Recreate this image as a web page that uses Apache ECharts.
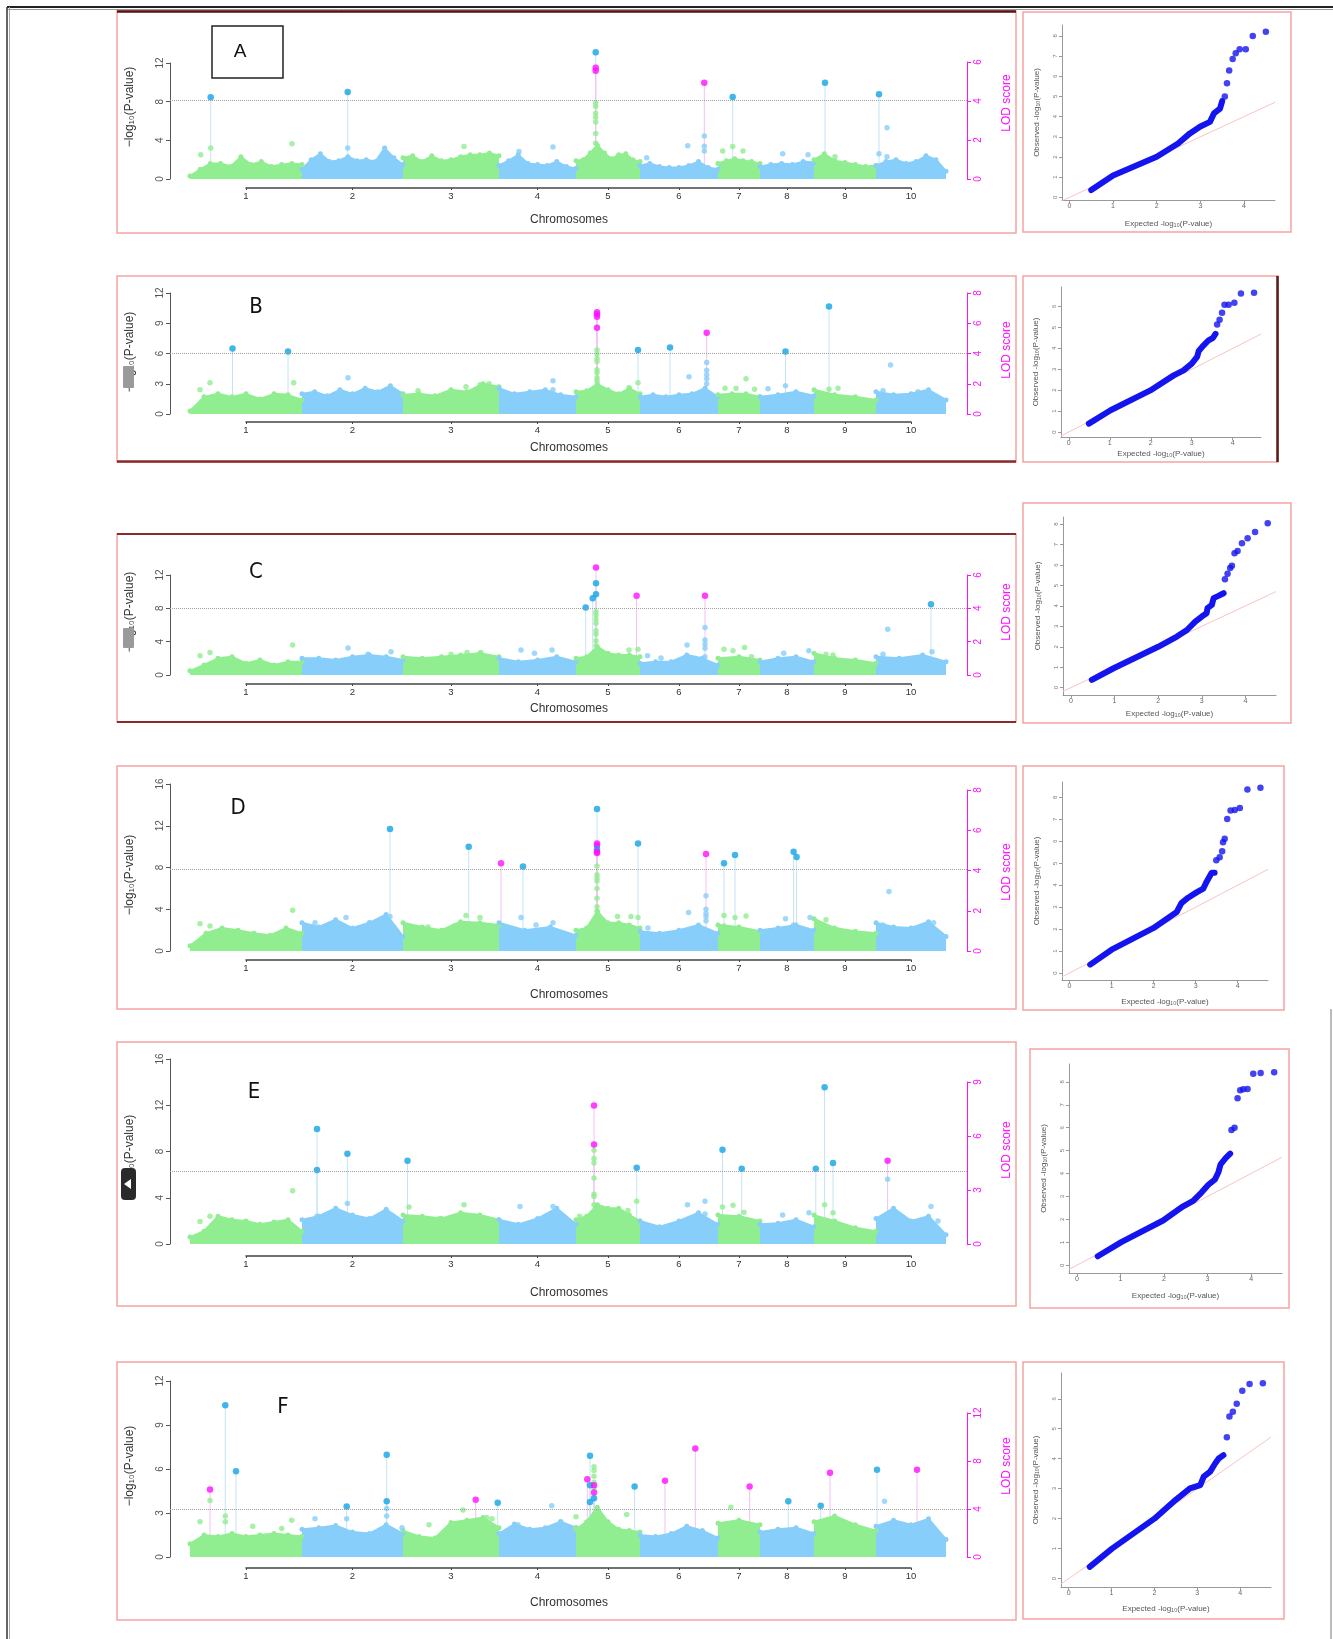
<!DOCTYPE html>
<html>
<head>
<meta charset="utf-8">
<script src="https://cdn.jsdelivr.net/npm/echarts@6.0.0/dist/echarts.min.js"></script>
<style>
  html, body { margin: 0; padding: 0; background: #fff; }
  #chart { width: 1333px; height: 1639px; }
</style>
</head>
<body>
<div id="chart"></div>
<script>
// ---------------------------------------------------------------------------
// Data (6 Manhattan plots + 6 QQ plots)
// ---------------------------------------------------------------------------
const chrNames = ["1", "2", "3", "4", "5", "6", "7", "8", "9", "10"];
// chromosome widths on the shared genome axis (marker index units)
const chrLen = [112, 101, 96, 77, 64, 78, 42, 54, 62, 70];
const thresholds = [8.1, 6.0, 8.0, 7.8, 6.3, 3.25];

// top edge of the dense point cloud, per chromosome (evenly spread inside it)
const envA = [
  [0.3, 1.0, 1.6, 1.6, 1.3, 2.3, 1.5, 1.8, 1.3, 1.5, 1.6, 1.5],
  [1.0, 2.0, 2.6, 1.8, 1.9, 2.3, 1.9, 2.0, 1.8, 3.2, 2.2, 1.5],
  [2.2, 2.4, 1.8, 2.4, 1.9, 2.0, 2.3, 2.5, 2.5, 2.7, 2.4],
  [1.4, 1.9, 2.5, 1.6, 1.5, 1.4, 1.8, 1.3, 1.1],
  [1.9, 2.0, 2.7, 3.5, 2.7, 2.1, 2.5, 2.6, 2.0, 1.8],
  [1.4, 1.6, 1.3, 1.2, 1.2, 1.4, 1.8, 1.2, 1.0],
  [1.6, 1.9, 2.1, 1.9, 1.8, 1.6],
  [1.3, 1.5, 1.6, 1.5, 1.8, 1.7],
  [2.0, 2.6, 1.9, 1.7, 1.5, 1.3, 1.4],
  [1.4, 1.8, 2.0, 1.6, 1.8, 2.4, 2.0, 0.8]
];
const envB = [
  [0.3, 1.7, 2.0, 1.7, 2.0, 1.5, 2.0, 1.9, 1.4],
  [2.0, 2.2, 1.8, 2.4, 2.0, 2.55, 2.2, 2.8, 2.0],
  [1.9, 2.0, 1.8, 2.4, 2.2, 3.0, 2.7],
  [2.55, 2.0, 2.2, 2.4, 1.9, 1.7],
  [2.2, 2.3, 3.0, 2.4, 2.0, 2.55, 2.0],
  [1.7, 1.9, 1.7, 1.9, 2.0, 2.55, 1.7],
  [1.9, 2.0, 2.0, 1.7],
  [1.7, 1.9, 2.2, 1.8],
  [2.4, 1.9, 1.7, 1.4],
  [2.2, 1.9, 2.0, 2.4, 1.4]
];
const envC = [
  [0.5, 1.2, 2.0, 2.2, 1.4, 1.8, 1.2, 1.6, 1.6],
  [2.0, 2.0, 1.8, 2.2, 2.4, 2.2, 1.8],
  [2.2, 2.0, 2.2, 2.4, 2.6, 2.2],
  [2.0, 1.6, 1.8, 2.2, 1.6],
  [2.0, 2.2, 3.4, 2.6, 2.4, 2.4, 2.2],
  [1.4, 1.6, 1.6, 2.4, 2.0, 1.2],
  [2.0, 2.2, 1.8],
  [1.6, 2.0, 2.2, 1.6],
  [2.6, 2.0, 1.8, 1.4],
  [2.2, 2.0, 2.4, 1.6]
];
const envD = [
  [0.5, 1.7, 2.2, 2.0, 1.7, 1.5, 2.2, 1.7],
  [2.7, 2.3, 3.0, 2.2, 2.7, 3.5, 1.4],
  [2.7, 2.3, 2.0, 2.8, 2.7, 2.5],
  [2.7, 2.0, 2.3, 1.5],
  [2.0, 2.2, 3.8, 2.7, 2.7, 2.5, 2.2],
  [1.9, 1.7, 2.0, 2.5, 1.7],
  [2.5, 2.3, 1.9],
  [2.0, 2.2, 2.5, 2.0],
  [3.1, 2.2, 1.9, 1.7],
  [2.7, 2.3, 2.2, 2.8, 1.4]
];
const envE = [
  [0.6, 1.1, 2.4, 2.1, 2.0, 1.7, 1.9, 2.1, 1.1],
  [2.1, 2.4, 3.1, 2.5, 2.2, 3.0, 2.0],
  [2.5, 2.4, 2.2, 2.7, 2.5, 2.1],
  [2.1, 1.7, 2.2, 3.1, 1.7],
  [2.1, 2.4, 3.4, 3.1, 3.1, 2.5, 2.0],
  [2.0, 1.5, 2.0, 2.7, 1.7],
  [2.5, 2.4, 2.0],
  [1.7, 1.8, 2.1, 1.5],
  [2.5, 2.0, 1.4, 1.1],
  [2.2, 3.1, 2.0, 2.4, 0.8]
];
const envF = [
  [0.9, 1.5, 1.4, 1.6, 1.4, 1.5, 1.6, 1.5, 1.4],
  [1.9, 2.0, 2.15, 1.7, 1.6, 2.2, 1.6],
  [1.8, 1.4, 1.3, 2.35, 2.5, 2.7, 2.0],
  [1.6, 2.25, 1.9, 2.0, 2.4, 2.0],
  [1.9, 2.4, 3.4, 2.4, 1.9, 1.8, 1.7],
  [1.5, 1.4, 1.6, 2.1, 1.8, 1.3],
  [2.3, 2.5, 2.2],
  [1.7, 1.9, 2.0, 1.6],
  [2.4, 2.8, 2.2, 1.8],
  [2.1, 2.5, 2.2, 2.6, 1.2]
];

// significant markers: [position, -log10(p), 0 = GWAS (blue) / 1 = LOD (magenta)]
const sigA = [[20.7, 8.45, 0], [157.7, 9.0, 0], [405.7, 13.1, 0], [405.7, 11.5, 1], [405.7, 11.2, 1],
  [514.3, 9.96, 1], [542.7, 8.48, 0], [635, 9.96, 0], [689, 8.76, 0]];
const sigB = [[42.5, 6.5, 0], [98, 6.2, 0], [407, 10.1, 1], [407, 9.9, 1], [407, 9.65, 1], [407, 8.56, 1],
  [448, 6.35, 0], [480, 6.6, 0], [516.7, 8.07, 1], [595.5, 6.2, 0], [639, 10.65, 0]];
const sigC = [[395.7, 8.1, 0], [402.7, 9.2, 0], [406, 9.7, 0], [406, 11.0, 0], [406, 12.9, 1],
  [446.6, 9.5, 1], [515, 9.5, 1], [741, 8.5, 0]];
const sigD = [[200, 11.7, 0], [278.7, 10.0, 0], [311, 8.4, 1], [333, 8.1, 0], [407, 13.6, 0], [407, 10.3, 1],
  [407, 10.1, 1], [407, 9.75, 0], [407, 9.5, 1], [407, 9.4, 1], [448, 10.3, 0], [516, 9.3, 1],
  [534, 8.4, 0], [545, 9.2, 0], [603.6, 9.5, 0], [606.6, 9.0, 0]];
const sigE = [[127, 9.95, 0], [127, 6.4, 0], [157.4, 7.8, 0], [217.5, 7.2, 0], [404, 11.97, 1], [404, 8.6, 1],
  [446.7, 6.6, 0], [532.5, 8.15, 0], [551.7, 6.5, 0], [625.8, 6.5, 0], [634.6, 13.55, 0], [643, 7.0, 0],
  [697.6, 7.2, 1]];
const sigF = [[20, 4.6, 1], [35.3, 10.35, 0], [46, 5.85, 0], [156.7, 3.45, 0], [196.7, 6.97, 0], [196.7, 3.8, 0],
  [285.7, 3.9, 1], [307.7, 3.7, 0], [397.3, 5.3, 1], [400, 6.9, 0], [400, 4.9, 0], [400, 3.75, 0],
  [404, 4.9, 1], [404, 4.4, 1], [404, 4.0, 0], [444.6, 4.8, 0], [475, 5.2, 1], [505.3, 7.4, 1],
  [559.6, 4.8, 1], [598.3, 3.8, 0], [630.7, 3.5, 0], [640, 5.75, 1], [687, 5.95, 0], [727, 5.95, 1]];

// loose markers standing above the cloud: [position, -log10(p)]
const ptsA = [[10.7, 2.5], [20.7, 3.2], [102, 3.65], [157.7, 3.2], [274, 3.35], [329, 2.85], [363, 3.3],
  [405.7, 7.9], [405.7, 7.5], [405.7, 6.8], [405.7, 6.4], [405.7, 5.9], [405.7, 4.7], [405.7, 3.7],
  [456.7, 2.2], [497.7, 3.45], [514.3, 4.45], [514.3, 3.4], [514.3, 2.9], [532.7, 2.9], [542.7, 3.35],
  [553, 2.9], [592.7, 2.6], [618, 2.5], [645, 2.3], [697, 5.3], [689, 2.6], [697, 2.3]];
const ptsB = [[10, 2.4], [20, 3.1], [103.7, 3.1], [158, 3.6], [228, 2.3], [276, 2.7], [290, 2.9], [299, 3.0],
  [363, 3.3], [363, 2.4], [407, 6.35], [407, 5.95], [407, 5.5], [407, 5.2], [407, 4.4], [407, 4.1],
  [407, 3.6], [407, 3.3], [448, 3.1], [439, 2.6], [499, 3.7], [516.7, 5.1], [516.7, 4.35], [516.7, 3.9],
  [516.7, 3.5], [516.7, 3.0], [535, 2.55], [546, 2.55], [556, 3.5], [564.5, 2.45], [578, 2.5],
  [595.5, 2.8], [639, 2.45], [648, 2.55], [700.5, 4.85], [693, 2.3], [728, 2.2]];
const ptsC = [[10, 2.3], [20, 2.7], [102.6, 3.6], [158, 3.25], [178, 2.5], [201, 2.8], [261, 2.5], [277, 2.7],
  [291, 2.7], [331, 3.0], [344.5, 2.6], [362, 3.0], [406, 7.6], [406, 7.2], [406, 6.7], [406, 6.2],
  [406, 5.3], [406, 4.9], [406, 4.1], [406, 3.5], [439, 3.0], [448, 3.1], [457.5, 2.3], [471, 2.05],
  [497, 3.6], [515, 5.7], [515, 4.2], [515, 3.7], [515, 3.2], [515, 2.2], [534, 3.1], [543, 2.9],
  [554.6, 3.3], [561.6, 2.2], [593.7, 2.6], [618.8, 2.9], [636, 2.5], [643, 2.4], [697.7, 5.5],
  [693, 2.5], [735, 2.0], [742, 2.8]];
const ptsD = [[10, 2.6], [20, 2.4], [102.6, 3.9], [125, 2.7], [156, 3.2], [179.6, 2.7], [189, 2.5], [200, 3.3],
  [238, 2.3], [264, 2.4], [276, 3.4], [290, 3.2], [331, 3.2], [346, 2.5], [363, 2.7], [407, 8.15],
  [407, 7.3], [407, 7.0], [407, 6.7], [407, 6.0], [407, 5.05], [407, 4.25], [407, 3.8], [427.5, 3.3],
  [441, 3.3], [448, 3.2], [458, 2.2], [498.6, 3.7], [516, 5.3], [516, 4.0], [516, 3.6], [516, 3.3],
  [516, 2.9], [534, 3.4], [534, 2.4], [545, 3.2], [556, 3.35], [595.5, 3.1], [603.6, 2.5], [620, 3.2],
  [636, 3.0], [648, 2.0], [699, 5.7], [693, 2.5], [743.6, 2.7]];
const ptsE = [[10, 1.95], [20, 2.4], [102.6, 4.6], [127, 2.4], [147.5, 2.2], [157.4, 3.5], [171, 2.1],
  [219, 3.2], [249.6, 2.2], [261, 2.1], [274, 3.4], [284.6, 2.4], [330, 3.25], [363, 3.25], [389.6, 2.4],
  [404, 8.1], [404, 7.4], [404, 7.0], [404, 5.7], [404, 4.3], [404, 4.1], [404, 3.4], [438, 2.9],
  [438, 2.3], [446.7, 3.7], [497.5, 3.4], [515, 3.7], [515, 2.6], [532.5, 3.2], [543, 3.35], [554, 2.75],
  [592.6, 2.5], [619, 2.7], [634.6, 3.4], [643, 2.7], [697.6, 5.6], [697.6, 2.5], [741, 3.25], [748, 2.0]];
const ptsF = [[10, 2.4], [20, 3.85], [35.3, 2.8], [35.3, 2.4], [62.7, 2.1], [91.7, 1.95], [101.7, 2.5],
  [125, 2.6], [156.7, 2.6], [196.7, 3.3], [196.7, 2.8], [212, 2.0], [239, 2.2], [273, 3.2], [296.7, 2.7],
  [302, 2.6], [328, 2.2], [361.7, 3.5], [370.7, 2.4], [386, 2.75], [386, 2.0], [404, 6.15], [404, 5.9],
  [404, 5.5], [404, 5.1], [404, 4.7], [436.7, 2.9], [540.8, 3.4], [694.5, 3.8]];

// QQ plots: dense part of the curve, then the sparse upper tail [expected, observed]
const qqLineA = [[0.50, 0.36], [1.0, 1.08], [2.0, 2.01], [2.49, 2.67], [2.76, 3.17], [2.99, 3.5], [3.22, 3.74],
  [3.31, 4.16], [3.45, 4.4], [3.5, 4.77]];
const qqTailA = [[3.56, 5.0], [3.61, 5.66], [3.66, 6.28], [3.74, 6.86], [3.81, 7.14], [3.9, 7.34], [4.04, 7.34],
  [4.2, 7.99], [4.5, 8.2]];
const qqLineB = [[0.49, 0.40], [1.02, 1.04], [1.99, 1.99], [2.56, 2.71], [2.8, 2.95], [3.0, 3.27], [3.13, 3.59],
  [3.17, 3.88], [3.29, 4.15], [3.41, 4.39], [3.52, 4.51], [3.58, 4.7]];
const qqTailB = [[3.62, 5.14], [3.68, 5.37], [3.74, 5.71], [3.8, 6.09], [3.9, 6.09], [4.04, 6.19], [4.2, 6.63],
  [4.52, 6.67]];
const qqLineC = [[0.48, 0.38], [0.98, 0.95], [2.0, 2.0], [2.43, 2.5], [2.66, 2.82], [2.85, 3.23], [3.0, 3.48],
  [3.11, 3.64], [3.13, 3.89], [3.23, 4.05], [3.27, 4.38], [3.38, 4.49], [3.5, 4.62]];
const qqTailC = [[3.53, 5.3], [3.59, 5.57], [3.65, 5.85], [3.69, 5.96], [3.75, 6.58], [3.82, 6.69], [3.92, 7.07],
  [4.05, 7.31], [4.22, 7.62], [4.51, 8.05]];
const qqLineD = [[0.49, 0.38], [1.0, 1.06], [1.99, 2.04], [2.55, 2.78], [2.66, 3.18], [2.82, 3.43], [3.02, 3.67],
  [3.18, 3.84], [3.26, 4.16], [3.38, 4.57], [3.45, 4.57]];
const qqTailD = [[3.49, 5.14], [3.57, 5.27], [3.63, 5.55], [3.65, 5.96], [3.69, 6.12], [3.75, 7.02], [3.83, 7.4],
  [3.93, 7.43], [4.05, 7.51], [4.23, 8.36], [4.54, 8.44]];
const qqLineE = [[0.48, 0.39], [1.02, 1.01], [1.98, 1.95], [2.44, 2.57], [2.67, 2.81], [2.86, 3.17], [3.02, 3.51],
  [3.17, 3.74], [3.25, 4.06], [3.3, 4.4], [3.42, 4.68], [3.52, 4.87]];
const qqTailE = [[3.55, 5.9], [3.62, 6.0], [3.69, 7.29], [3.75, 7.64], [3.82, 7.68], [3.92, 7.69], [4.05, 8.35],
  [4.22, 8.39], [4.53, 8.42]];
const qqLineF = [[0.49, 0.39], [1.01, 1.0], [2.0, 2.0], [2.49, 2.62], [2.83, 3.01], [3.07, 3.12], [3.15, 3.4],
  [3.3, 3.57], [3.42, 3.85], [3.5, 4.01], [3.61, 4.12]];
const qqTailF = [[3.69, 4.72], [3.75, 5.41], [3.83, 5.57], [3.92, 5.83], [4.05, 6.27], [4.22, 6.49], [4.53, 6.52]];

// ---------------------------------------------------------------------------
// Layout (pixel geometry of each panel)
// ---------------------------------------------------------------------------
const GREEN = "#90ee90", LBLUE = "#87cefa", DBLUE = "#13a4e6", MAG = "#ff10ff", QBLUE = "#1414f0";
const FONT = "'Liberation Sans', Arial, 'DejaVu Sans', sans-serif";
const NARROW = "'Liberation Sans Narrow', 'DejaVu Sans Condensed', 'Liberation Sans', sans-serif";
const PINK_BOX = "#f6a3a3";

const manLayout = {
  A: { y0: 179, yTop: 63, ymax: 12, yStep: 4, lodTop: 62, lodMax: 6, lodStep: 2, chrY: 188,
       box: [117, 11, 1016, 233], titleY: 220, ylabY: 107, lodLabY: 103, letter: [240, 52] },
  B: { y0: 414, yTop: 293, ymax: 12, yStep: 3, lodTop: 293, lodMax: 8, lodStep: 2, chrY: 422,
       box: [117, 276, 1016, 462], titleY: 448, ylabY: 352, lodLabY: 350, letter: [256, 307] },
  C: { y0: 675, yTop: 575, ymax: 12, yStep: 4, lodTop: 575, lodMax: 6, lodStep: 2, chrY: 684,
       box: [117, 534, 1016, 722], titleY: 709, ylabY: 612, lodLabY: 612, letter: [256, 572] },
  D: { y0: 951, yTop: 784, ymax: 16, yStep: 4, lodTop: 790, lodMax: 8, lodStep: 2, chrY: 960,
       box: [117, 766, 1016, 1009], titleY: 995, ylabY: 875, lodLabY: 872, letter: [238, 808] },
  E: { y0: 1244, yTop: 1059, ymax: 16, yStep: 4, lodTop: 1082, lodMax: 9, lodStep: 3, chrY: 1256,
       box: [117, 1042, 1016, 1306], titleY: 1293, ylabY: 1155, lodLabY: 1150, letter: [254, 1092] },
  F: { y0: 1557, yTop: 1381, ymax: 12, yStep: 3, lodTop: 1413, lodMax: 12, lodStep: 4, chrY: 1568,
       box: [117, 1362, 1016, 1620], titleY: 1603, ylabY: 1466, lodLabY: 1466, letter: [283, 1407] }
};

const qqLayout = {
  A: { l: 1062, r: 1275, t: 25, b: 200, xmin: -0.17, xmax: 4.71, ymin: -0.13, ymax: 8.54, yTop: 8, gapX: 20, box: [1023, 12, 1291, 232] },
  B: { l: 1061, r: 1261, t: 287, b: 437, xmin: -0.19, xmax: 4.69, ymin: -0.24, ymax: 6.94, yTop: 6, gapX: 13, box: [1023, 276, 1278, 462] },
  C: { l: 1063, r: 1276, t: 517, b: 695, xmin: -0.18, xmax: 4.70, ymin: -0.36, ymax: 8.35, yTop: 8, gapX: 15, box: [1023, 503, 1291, 723] },
  D: { l: 1062, r: 1268, t: 782, b: 980, xmin: -0.18, xmax: 4.72, ymin: -0.32, ymax: 8.70, yTop: 8, gapX: 18, box: [1023, 766, 1284, 1010] },
  E: { l: 1069, r: 1282, t: 1064, b: 1273, xmin: -0.18, xmax: 4.71, ymin: -0.34, ymax: 8.78, yTop: 8, gapX: 19, box: [1030, 1049, 1289, 1308] },
  F: { l: 1061, r: 1271, t: 1373, b: 1587, xmin: -0.18, xmax: 4.72, ymin: -0.28, ymax: 6.86, yTop: 6, gapX: 18, box: [1023, 1362, 1284, 1619] }
};

const manData = {
  A: { env: envA, sig: sigA, pts: ptsA, thr: thresholds[0] },
  B: { env: envB, sig: sigB, pts: ptsB, thr: thresholds[1] },
  C: { env: envC, sig: sigC, pts: ptsC, thr: thresholds[2] },
  D: { env: envD, sig: sigD, pts: ptsD, thr: thresholds[3] },
  E: { env: envE, sig: sigE, pts: ptsE, thr: thresholds[4] },
  F: { env: envF, sig: sigF, pts: ptsF, thr: thresholds[5] }
};
const qqData = {
  A: [qqLineA, qqTailA], B: [qqLineB, qqTailB], C: [qqLineC, qqTailC],
  D: [qqLineD, qqTailD], E: [qqLineE, qqTailE], F: [qqLineF, qqTailF]
};

// ---------------------------------------------------------------------------
const X_MIN = -20, X_MAX = 777, PLOT_L = 170, PLOT_W = 797;
const pxOf = (pos) => PLOT_L + (pos - X_MIN) / (X_MAX - X_MIN) * PLOT_W;
const chrStart = chrLen.map((_, i) => chrLen.slice(0, i).reduce((a, b) => a + b, 0));
const chrMid = chrStart.map((s, i) => s + chrLen[i] / 2);

function chrColor(pos) {
  let k = 0;
  chrStart.forEach((s, i) => { if (pos >= s) k = i; });
  return k % 2 ? LBLUE : GREEN;
}

const grids = [], xAxes = [], yAxes = [], series = [], graphics = [];
const add = (arr, o) => { arr.push(o); return arr.length - 1; };

function gText(text, x, y, color, font, rot) {
  graphics.push({
    type: "text", x, y, rotation: rot || 0, silent: true, z: 10,
    style: { text, fill: color, font, textAlign: "center", textVerticalAlign: "middle", align: "center", verticalAlign: "middle" }
  });
}
function gLine(x1, y1, x2, y2, stroke, w) {
  graphics.push({ type: "line", silent: true, z: 10, shape: { x1, y1, x2, y2 }, style: { stroke, lineWidth: w } });
}
function gBox(b, stroke, w) {
  graphics.push({ type: "rect", silent: true, z: 9, shape: { x: b[0], y: b[1], width: b[2] - b[0], height: b[3] - b[1] },
    style: { fill: "none", stroke, lineWidth: w } });
}

function manhattan(k) {
  const L = manLayout[k], d = manData[k];
  const gi = add(grids, { left: PLOT_L, width: PLOT_W, top: L.yTop, height: L.y0 - L.yTop });
  const xi = add(xAxes, { gridIndex: gi, type: "value", min: X_MIN, max: X_MAX, show: false });
  const yi = add(yAxes, {
    gridIndex: gi, type: "value", min: 0, max: L.ymax, interval: L.yStep,
    axisLine: { show: true, onZero: false, lineStyle: { color: "#555", width: 1 } },
    axisTick: { show: true, length: 4, lineStyle: { color: "#555" } },
    axisLabel: { rotate: 90, fontSize: 10, color: "#555", margin: 5, fontFamily: FONT },
    splitLine: { show: false }
  });

  // stems below the significant markers
  series.push({
    type: "custom", xAxisIndex: xi, yAxisIndex: yi, data: d.sig, silent: true, z: 1,
    renderItem: (params, api) => {
      const top = api.coord([api.value(0), api.value(1)]);
      const bot = api.coord([api.value(0), 0]);
      return { type: "line", shape: { x1: top[0], y1: top[1], x2: bot[0], y2: bot[1] },
        style: { stroke: api.value(2) ? "#f4c0f4" : "#c4e4f6", lineWidth: 1 } };
    }
  });

  // dense point cloud, one filled series per chromosome
  chrLen.forEach((len, i) => {
    const vals = d.env[i];
    const c = i % 2 ? LBLUE : GREEN;
    const s = {
      type: "line", xAxisIndex: xi, yAxisIndex: yi, silent: true, z: 2,
      data: vals.map((v, j) => [chrStart[i] + len * j / (vals.length - 1), v]),
      symbol: "circle", symbolSize: 5, showSymbol: true,
      lineStyle: { color: c, width: 2 }, itemStyle: { color: c },
      areaStyle: { color: c, opacity: 1 }
    };
    if (i === 0) {
      s.markLine = {
        silent: true, symbol: "none", label: { show: false },
        lineStyle: { type: "dotted", color: "#a0a0a0", width: 1 },
        data: [{ yAxis: d.thr }]
      };
    }
    series.push(s);
  });

  series.push({
    type: "scatter", xAxisIndex: xi, yAxisIndex: yi, data: d.pts, symbolSize: 5.5, silent: true, z: 3,
    itemStyle: { color: (p) => chrColor(p.value[0]) }
  });
  series.push({
    type: "scatter", xAxisIndex: xi, yAxisIndex: yi, data: d.sig, symbolSize: 6.5, silent: true, z: 4, clip: false,
    itemStyle: { color: (p) => (p.value[2] ? MAG : DBLUE) }
  });

  // LOD axis on the right
  const gl = add(grids, { left: PLOT_L + PLOT_W - 1, width: 1, top: L.lodTop, height: L.y0 - L.lodTop });
  add(xAxes, { gridIndex: gl, type: "value", show: false });
  add(yAxes, {
    gridIndex: gl, type: "value", position: "right", min: 0, max: L.lodMax, interval: L.lodStep,
    axisLine: { show: true, onZero: false, lineStyle: { color: MAG, width: 1 } },
    axisTick: { show: true, length: 4, lineStyle: { color: MAG } },
    axisLabel: { rotate: 90, fontSize: 10, color: MAG, margin: 6, fontFamily: FONT },
    splitLine: { show: false }
  });

  // chromosome axis below, from the first to the last chromosome centre
  const gc = add(grids, { left: pxOf(chrMid[0]), width: pxOf(chrMid[9]) - pxOf(chrMid[0]), top: L.chrY - 1, height: 1 });
  add(xAxes, {
    gridIndex: gc, type: "value", min: chrMid[0], max: chrMid[9],
    axisLine: { show: true, onZero: false, lineStyle: { color: "#444", width: 1.5 } },
    axisTick: { show: true, customValues: chrMid, length: 2, lineStyle: { color: "#444" } },
    axisLabel: { customValues: chrMid, fontSize: 9.5, color: "#333", margin: 3, fontFamily: FONT,
      formatter: (v) => chrNames[chrMid.findIndex((m) => Math.abs(m - v) < 0.01)] || "" },
    splitLine: { show: false }
  });
  add(yAxes, { gridIndex: gc, type: "value", show: false });

  gBox(L.box, PINK_BOX, 1.5);
  gText("\u2212log\u2081\u2080(P-value)", 130, L.ylabY, "#333", "12px " + FONT, Math.PI / 2);
  gText("LOD score", 1007, L.lodLabY, MAG, "12px " + FONT, Math.PI / 2);
  gText("Chromosomes", 569, L.titleY, "#333", "12px " + FONT);
  if (k === "A") {
    gBox([212, 26, 283, 78], "#222", 1.5);
    gText("A", L.letter[0], L.letter[1], "#111", "19px " + FONT);
  } else {
    gText(k, L.letter[0], L.letter[1], "#111", "22px " + NARROW);
  }
}

function qq(k) {
  const Q = qqLayout[k], [line, tail] = qqData[k];
  const gi = add(grids, { left: Q.l, top: Q.t, width: Q.r - Q.l, height: Q.b - Q.t });
  const xt = [0, 1, 2, 3, 4];
  const yt = Array.from({ length: Q.yTop + 1 }, (_, i) => i);
  const xi = add(xAxes, {
    gridIndex: gi, type: "value", min: Q.xmin, max: Q.xmax,
    axisLine: { show: true, onZero: false, lineStyle: { color: "#999", width: 1 } },
    axisTick: { show: true, customValues: xt, length: 3, lineStyle: { color: "#999" } },
    axisLabel: { customValues: xt, fontSize: 7, color: "#666", margin: 3, fontFamily: FONT },
    splitLine: { show: false },
    name: "Expected -log\u2081\u2080(P-value)", nameLocation: "middle", nameGap: Q.gapX,
    nameTextStyle: { fontSize: 8, color: "#555", fontFamily: FONT }
  });
  const yi = add(yAxes, {
    gridIndex: gi, type: "value", min: Q.ymin, max: Q.ymax,
    axisLine: { show: true, onZero: false, lineStyle: { color: "#999", width: 1 } },
    axisTick: { show: true, customValues: yt, length: 3, lineStyle: { color: "#999" } },
    axisLabel: { customValues: yt, rotate: 90, fontSize: 6, color: "#777", margin: 4, fontFamily: FONT },
    splitLine: { show: false },
    name: "Observed -log\u2081\u2080(P-value)", nameLocation: "middle", nameGap: 21, nameRotate: 90,
    nameTextStyle: { fontSize: 8, color: "#555", fontFamily: FONT }
  });
  series.push({
    type: "line", xAxisIndex: xi, yAxisIndex: yi, silent: true, showSymbol: false, z: 1,
    data: [[Q.xmin, Q.xmin], [Q.xmax, Q.xmax]],
    lineStyle: { color: "#f7c4c4", width: 1 }
  });
  series.push({
    type: "line", xAxisIndex: xi, yAxisIndex: yi, silent: true, showSymbol: false, z: 2, data: line,
    lineStyle: { color: QBLUE, width: 6, cap: "round", join: "round" }
  });
  series.push({
    type: "scatter", xAxisIndex: xi, yAxisIndex: yi, silent: true, z: 3, data: tail, symbolSize: 6.5,
    itemStyle: { color: QBLUE }
  });
  gBox(Q.box, PINK_BOX, 1.5);
}

["A", "B", "C", "D", "E", "F"].forEach((k) => { manhattan(k); qq(k); });

// page frame and the dark crop edges of the original figure
gLine(7, 7, 1333, 7, "#222", 2);
gLine(7, 9.5, 1333, 9.5, "#999", 1);
gLine(7, 7, 7, 1639, "#333", 1.5);
gLine(9.5, 7, 9.5, 1639, "#aaa", 1);
gLine(1331, 1009, 1331, 1639, "#bbb", 2);
gLine(117, 11.5, 1016, 11.5, "#5a1010", 2.5);
gLine(117, 461.5, 1016, 461.5, "#8b2a2a", 2.5);
gLine(117, 534, 1016, 534, "#8b2a2a", 2);
gLine(117, 722, 1016, 722, "#8b2a2a", 2);
gLine(1277.5, 276, 1277.5, 462, "#5a1a1a", 2.5);

// blobs covering part of the y titles in B, C and E
graphics.push({ type: "rect", silent: true, z: 11, shape: { x: 123, y: 366, width: 11, height: 22, r: 1 }, style: { fill: "#9a9a9a" } });
graphics.push({ type: "rect", silent: true, z: 11, shape: { x: 123, y: 628, width: 11, height: 20, r: 1 }, style: { fill: "#9a9a9a" } });
graphics.push({ type: "rect", silent: true, z: 11, shape: { x: 121, y: 1168, width: 15, height: 32, r: 4 }, style: { fill: "#2a2a2a" } });
graphics.push({ type: "polygon", silent: true, z: 12, shape: { points: [[124, 1184], [131, 1179], [131, 1189]] }, style: { fill: "#fff" } });

const chart = echarts.init(document.getElementById("chart"), null, { renderer: "canvas" });
chart.setOption({
  animation: false,
  backgroundColor: "#fff",
  grid: grids,
  xAxis: xAxes,
  yAxis: yAxes,
  series,
  graphic: graphics
});
</script>
</body>
</html>
